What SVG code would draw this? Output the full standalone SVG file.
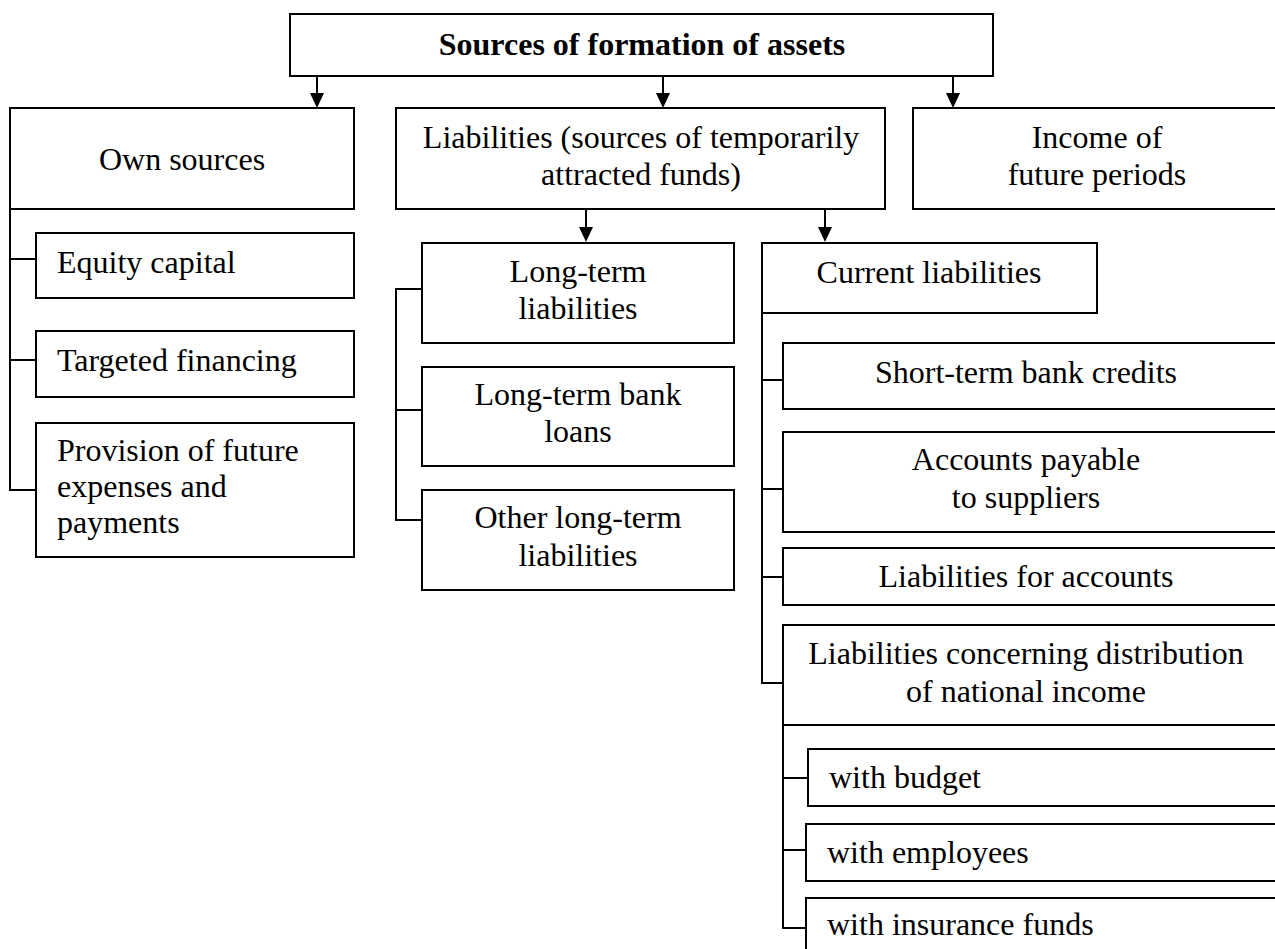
<svg xmlns="http://www.w3.org/2000/svg" width="1275" height="949" viewBox="0 0 1275 949">
  <defs>
    <style>
      rect { fill: #fff; stroke: #000; stroke-width: 2; }
      .c { fill: none; stroke: #000; stroke-width: 2; }
      text { font-family: "Liberation Serif", "Times New Roman", serif; font-size: 32px; fill: #000; }
      .m { text-anchor: middle; }
      .b { font-weight: bold; }
    </style>
  </defs>
  <rect x="0" y="0" width="1275" height="949" style="fill:#fff;stroke:none"/>

  <!-- connectors -->
  <g id="connectors">
    <!-- arrows from the title box -->
    <path class="c" d="M317,76 V94" />
    <path class="c" d="M663,76 V94" />
    <path class="c" d="M953,76 V94" />
    <path d="M310,93 L324,93 L317,108 Z" />
    <path d="M656,93 L670,93 L663,108 Z" />
    <path d="M946,93 L960,93 L953,108 Z" />
    <!-- arrows from liabilities -->
    <path class="c" d="M586,209 V228" />
    <path class="c" d="M825,209 V228" />
    <path d="M579,227 L593,227 L586,242 Z" />
    <path d="M818,227 L832,227 L825,242 Z" />
    <!-- own sources branch -->
    <path class="c" d="M10,209 V490 H36 M10,259 H36 M10,360 H36" />
    <!-- long-term branch -->
    <path class="c" d="M422,289 H396 V520 H422 M396,410 H422" />
    <!-- current liabilities branch -->
    <path class="c" d="M762,313 V683 H783 M762,380 H783 M762,489 H783 M762,577 H783" />
    <!-- national income branch -->
    <path class="c" d="M783,725 V928 H806 M783,778 H808 M783,850 H806" />
  </g>

  <g id="title">
    <rect x="290" y="14" width="703" height="62"/>
    <text class="m b" x="642" y="55">Sources of formation of assets</text>
  </g>

  <g id="own-sources">
    <rect x="10" y="108" width="344" height="101"/>
    <text class="m" x="182" y="170">Own sources</text>
  </g>

  <g id="liabilities">
    <rect x="396" y="108" width="489" height="101"/>
    <text class="m" x="641" y="148">Liabilities (sources of temporarily</text>
    <text class="m" x="641" y="185">attracted funds)</text>
  </g>

  <g id="income-future">
    <rect x="913" y="108" width="380" height="101"/>
    <text class="m" x="1097" y="148">Income of</text>
    <text class="m" x="1097" y="185">future periods</text>
  </g>

  <g id="equity-capital">
    <rect x="36" y="233" width="318" height="65"/>
    <text x="57" y="273">Equity capital</text>
  </g>

  <g id="targeted-financing">
    <rect x="36" y="331" width="318" height="66"/>
    <text x="57" y="371">Targeted financing</text>
  </g>

  <g id="provision">
    <rect x="36" y="423" width="318" height="134"/>
    <text x="57" y="461">Provision of future</text>
    <text x="57" y="497">expenses and</text>
    <text x="57" y="533">payments</text>
  </g>

  <g id="long-term-liabilities">
    <rect x="422" y="243" width="312" height="100"/>
    <text class="m" x="578" y="282">Long-term</text>
    <text class="m" x="578" y="319">liabilities</text>
  </g>

  <g id="long-term-bank-loans">
    <rect x="422" y="367" width="312" height="99"/>
    <text class="m" x="578" y="405">Long-term bank</text>
    <text class="m" x="578" y="442">loans</text>
  </g>

  <g id="other-long-term">
    <rect x="422" y="490" width="312" height="100"/>
    <text class="m" x="578" y="528">Other long-term</text>
    <text class="m" x="578" y="566">liabilities</text>
  </g>

  <g id="current-liabilities">
    <rect x="762" y="243" width="335" height="70"/>
    <text class="m" x="929" y="283">Current liabilities</text>
  </g>

  <g id="short-term-credits">
    <rect x="783" y="343" width="510" height="66"/>
    <text class="m" x="1026" y="383">Short-term bank credits</text>
  </g>

  <g id="accounts-payable">
    <rect x="783" y="432" width="510" height="100"/>
    <text class="m" x="1026" y="470">Accounts payable</text>
    <text class="m" x="1026" y="508">to suppliers</text>
  </g>

  <g id="liabilities-accounts">
    <rect x="783" y="548" width="510" height="57"/>
    <text class="m" x="1026" y="587">Liabilities for accounts</text>
  </g>

  <g id="national-income">
    <rect x="783" y="625" width="510" height="100"/>
    <text class="m" x="1026" y="664">Liabilities concerning distribution</text>
    <text class="m" x="1026" y="702">of national income</text>
  </g>

  <g id="with-budget">
    <rect x="808" y="749" width="485" height="57"/>
    <text x="829" y="788">with budget</text>
  </g>

  <g id="with-employees">
    <rect x="806" y="824" width="487" height="57"/>
    <text x="827" y="863">with employees</text>
  </g>

  <g id="with-insurance">
    <rect x="806" y="898" width="487" height="70"/>
    <text x="827" y="935">with insurance funds</text>
  </g>
</svg>
